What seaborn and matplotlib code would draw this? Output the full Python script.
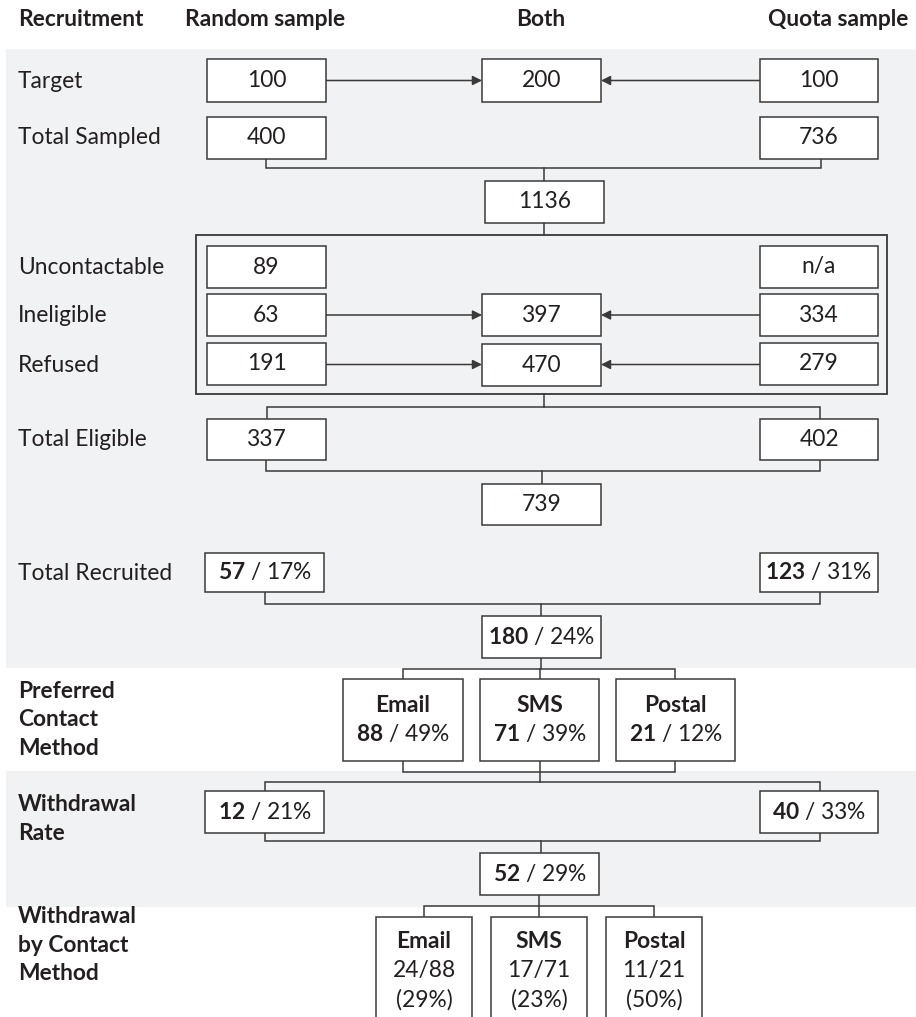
import matplotlib
matplotlib.use("Agg")
import matplotlib.pyplot as plt
from matplotlib.patches import Rectangle
import seaborn as sns

sns.set_theme(style="white")
plt.rcParams['font.family'] = ['Lato', 'DejaVu Sans']
plt.rcParams['mathtext.fontset'] = 'custom'
plt.rcParams['mathtext.rm'] = 'Lato'
plt.rcParams['mathtext.bf'] = 'Lato:bold'

# ---------------- data ----------------
column_headers = ["Random sample", "Both", "Quota sample"]
corner_header = "Recruitment"
row_labels = ["Target", "Total Sampled", "Uncontactable", "Ineligible", "Refused",
              "Total Eligible", "Total Recruited"]
bold_labels = ["Preferred\nContact\nMethod", "Withdrawal\nRate", "Withdrawal\nby Contact\nMethod"]
target = [100, 200, 100]
total_sampled = [400, 736]
combined_sampled = 1136
uncontactable = ["89", "n/a"]
ineligible = [63, 397, 334]
refused = [191, 470, 279]
total_eligible = [337, 402]
combined_eligible = 739
recruited_n = [57, 123]
recruited_pct = [17, 31]
recruited_total = [180, 24]
contact_methods = ["Email", "SMS", "Postal"]
contact_n = [88, 71, 21]
contact_pct = [49, 39, 12]
withdrawal_n = [12, 40]
withdrawal_pct = [21, 33]
withdrawal_total = [52, 29]
withdraw_method_n = [24, 17, 11]
withdraw_method_pct = [29, 23, 50]

# ---------------- style ----------------
EDGE = "#3a3a3a"
TXT = "#231f20"
BAND = "#f1f2f4"
LW = 1.1
FS = 16.4

fig = plt.figure(figsize=(9.16, 10.17), dpi=100)
ax = fig.add_axes([0, 0, 1, 1])
ax.set_xlim(0, 916)
ax.set_ylim(1017, 0)
ax.axis('off')
fig.patch.set_facecolor('white')

# background bands
ax.add_patch(Rectangle((6, 49), 916 - 6, 668 - 49, facecolor=BAND, edgecolor='none', zorder=0))
ax.add_patch(Rectangle((6, 771), 916 - 6, 907 - 771, facecolor=BAND, edgecolor='none', zorder=0))


def box(x0, x1, y0, y1, text=None, weight='normal', fc='white', ty=None):
    ax.add_patch(Rectangle((x0, y0), x1 - x0, y1 - y0, facecolor=fc, edgecolor=EDGE,
                           lw=LW, zorder=3))
    if text is not None:
        ax.text((x0 + x1) / 2, (y0 + y1) / 2 if ty is None else ty, text, ha='center',
                va='center', fontsize=FS, color=TXT, weight=weight, zorder=4)


def line(xs, ys):
    ax.plot(xs, ys, color=EDGE, lw=LW, zorder=2, solid_capstyle='projecting',
            solid_joinstyle='miter')


def arrow(x_from, x_to, y):
    ax.annotate('', xy=(x_to, y), xytext=(x_from, y),
                arrowprops=dict(arrowstyle='-|>', color=EDGE, lw=LW, mutation_scale=14,
                                shrinkA=0, shrinkB=0), zorder=2)


def mixed(n, p):
    return f"$\\mathbf{{{n}}}$ / {p}%"


R = (207, 326)
B = (482, 601)
Q = (760, 878)
R2 = (205, 324)

# headers
ax.text(18, 20, corner_header, ha='left', va='center', fontsize=FS, weight='bold', color=TXT)
for x, h in zip([265, 541, 838], column_headers):
    ax.text(x, 20, h, ha='center', va='center', fontsize=FS, weight='bold', color=TXT)

# row labels
for y, lab in zip([81, 138, 268, 316, 365, 439, 573], row_labels):
    ax.text(18, y, lab, ha='left', va='center', fontsize=FS, color=TXT)
for y, lab in zip([720, 819, 945], bold_labels):
    ax.text(18, y, lab, ha='left', va='center', fontsize=FS, weight='bold', color=TXT,
            linespacing=1.47)

# Target row
box(*R, 59, 102, str(target[0]))
box(*B, 59, 102, str(target[1]))
box(*Q, 59, 102, str(target[2]))
arrow(R[1], B[0], 80.5)
arrow(Q[0], B[1], 80.5)

# Total sampled
box(*R, 117, 159, str(total_sampled[0]))
box(*Q, 117, 159, str(total_sampled[1]))
line([266, 266, 821, 821], [159, 168, 168, 159])
line([544, 544], [168, 181])
box(485, 604, 181, 223, str(combined_sampled))
line([544, 544], [223, 235])

# big rectangle
ax.add_patch(Rectangle((196, 235), 887 - 196, 394 - 235, facecolor='none', edgecolor=EDGE,
                       lw=LW * 1.2, zorder=2))
box(*R, 246, 288, uncontactable[0])
box(*Q, 246, 288, uncontactable[1])
box(*R, 294, 336, str(ineligible[0]))
box(*B, 294, 336, str(ineligible[1]))
box(*Q, 294, 336, str(ineligible[2]))
arrow(R[1], B[0], 315)
arrow(Q[0], B[1], 315)
box(*R, 343, 385, str(refused[0]))
box(*B, 344, 386, str(refused[1]))
box(*Q, 343, 385, str(refused[2]))
arrow(R[1], B[0], 364.5)
arrow(Q[0], B[1], 364.5)

# eligible
line([544, 544], [394, 407])
line([267, 267, 820, 820], [419, 407, 407, 419])
box(*R, 419, 460, str(total_eligible[0]))
box(*Q, 419, 460, str(total_eligible[1]))
line([266, 266, 820, 820], [460, 471, 471, 460])
line([542, 542], [471, 484])
box(*B, 484, 525, str(combined_eligible))

# recruited
box(*R2, 553, 592, mixed(recruited_n[0], recruited_pct[0]))
box(*Q, 553, 592, mixed(recruited_n[1], recruited_pct[1]))
line([265, 265, 820, 820], [592, 604, 604, 592])
line([541, 541], [604, 616])
box(*B, 616, 658, mixed(*recruited_total))

# contact method
cm_x = [(343, 463), (480, 599), (616, 735)]
line([541, 541], [658, 669])
line([403, 403, 675, 675], [679, 669, 669, 679])
line([540, 540], [669, 679])
for (x0, x1), m, n, p in zip(cm_x, contact_methods, contact_n, contact_pct):
    ax.add_patch(Rectangle((x0, 679), x1 - x0, 761 - 679, facecolor='white', edgecolor=EDGE,
                           lw=LW, zorder=3))
    cx = (x0 + x1) / 2
    ax.text(cx, 706, m, ha='center', va='center', fontsize=FS, weight='bold', color=TXT, zorder=4)
    ax.text(cx, 734, mixed(n, p), ha='center', va='center', fontsize=FS, color=TXT, zorder=4)
line([403, 403, 675, 675], [761, 772, 772, 761])
line([540, 540], [761, 782])

# withdrawal rate
line([265, 265, 820, 820], [791, 782, 782, 791])
box(*R2, 791, 833, mixed(withdrawal_n[0], withdrawal_pct[0]))
box(*Q, 791, 833, mixed(withdrawal_n[1], withdrawal_pct[1]))
line([265, 265, 820, 820], [833, 841, 841, 833])
line([541, 541], [841, 853])
box(480, 599, 853, 895, mixed(*withdrawal_total))

# withdrawal by contact method
wm_x = [(376, 472), (491, 587), (606, 702)]
line([539, 539], [895, 917])
line([424, 424, 654, 654], [917, 906, 906, 917])
for (x0, x1), m, n, tot, p in zip(wm_x, contact_methods, withdraw_method_n, contact_n,
                                  withdraw_method_pct):
    ax.add_patch(Rectangle((x0, 917), x1 - x0, 1040 - 917, facecolor='white', edgecolor=EDGE,
                           lw=LW, zorder=3))
    cx = (x0 + x1) / 2
    ax.text(cx, 942, m, ha='center', va='center', fontsize=FS, weight='bold', color=TXT, zorder=4)
    ax.text(cx, 971, f"{n}/{tot}", ha='center', va='center', fontsize=FS, color=TXT, zorder=4)
    ax.text(cx, 1000, f"({p}%)", ha='center', va='center', fontsize=FS, color=TXT, zorder=4)

fig.savefig("out.png", dpi=100, facecolor='white')
